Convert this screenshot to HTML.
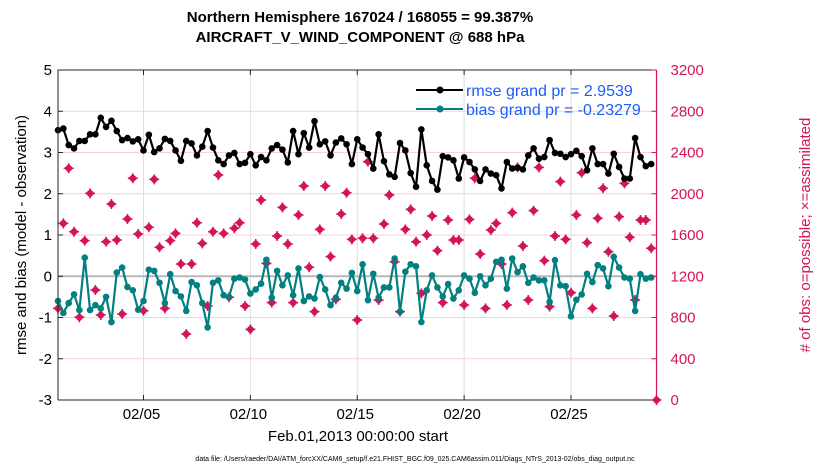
<!DOCTYPE html>
<html><head><meta charset="utf-8"><style>
body{margin:0;background:#fff;width:830px;height:470px;overflow:hidden}
svg text{font-family:"Liberation Sans",Arial,sans-serif}
</style></head><body>
<svg id="chart" width="830" height="470" viewBox="0 0 830 470">
<text x="360" y="22" text-anchor="middle" font-size="15" font-weight="bold">Northern Hemisphere 167024 / 168055 = 99.387%</text>
<text x="360" y="42" text-anchor="middle" font-size="15" font-weight="bold">AIRCRAFT_V_WIND_COMPONENT @ 688 hPa</text>
<g id="grid"></g><g id="marks"></g><g id="axes"></g>
<text x="358" y="441" text-anchor="middle" font-size="15">Feb.01,2013 00:00:00 start</text>
<text transform="translate(26,235) rotate(-90)" text-anchor="middle" font-size="15">rmse and bias (model - observation)</text>
<text transform="translate(810,235) rotate(-90)" text-anchor="middle" font-size="15" fill="#d4145a"># of obs: o=possible; ×=assimilated</text>
<text x="415" y="461" text-anchor="middle" font-size="7">data file: /Users/raeder/DAI/ATM_forcXX/CAM6_setup/f.e21.FHIST_BGC.f09_025.CAM6assim.011/Diags_NTrS_2013-02/obs_diag_output.nc</text>
<g>
<line x1="416" y1="90" x2="463" y2="90" stroke="#000" stroke-width="2"/><circle cx="440" cy="90" r="3.5" fill="#000"/>
<text x="466" y="96" font-size="16" fill="#1a5cff">rmse grand pr = 2.9539</text>
<line x1="416" y1="109" x2="463" y2="109" stroke="#008080" stroke-width="2"/><circle cx="440" cy="109" r="3.5" fill="#008080"/>
<text x="466" y="115" font-size="16" fill="#1a5cff">bias grand pr = -0.23279</text>
</g>
</svg>
<script>
const rmse=[3.54,3.58,3.18,3.10,3.28,3.28,3.44,3.44,3.84,3.62,3.77,3.52,3.30,3.35,3.27,3.32,3.05,3.43,3.01,3.10,3.33,3.28,3.05,2.80,3.28,3.22,2.93,3.14,3.52,3.12,2.81,2.72,2.93,2.99,2.72,2.75,2.96,2.69,2.89,
2.81,3.10,3.18,3.07,2.76,3.52,2.96,3.47,3.12,3.76,3.20,3.27,2.93,3.24,3.34,3.20,2.72,3.32,3.12,2.96,2.61,3.44,2.79,2.47,2.41,3.23,3.05,2.50,2.17,3.56,2.69,2.31,2.10,2.91,2.88,
2.81,2.37,2.88,2.77,2.59,2.31,2.59,2.49,2.45,2.13,2.77,2.61,2.63,2.59,2.93,3.10,2.85,2.89,3.30,2.99,2.97,2.89,2.96,3.04,2.91,2.57,3.10,2.72,2.72,2.49,2.97,2.65,2.37,2.37,3.35,2.89,2.67,2.72];
const bias=[-0.60,-0.89,-0.65,-0.44,-0.82,0.45,-0.82,-0.70,-0.78,-0.50,-1.11,0.09,0.21,-0.26,-0.34,-0.81,-0.60,0.16,0.13,-0.16,-0.65,0.05,-0.36,-0.49,-0.84,-0.14,-0.22,-0.65,-1.24,-0.16,-0.10,-0.46,-0.50,-0.06,-0.03,-0.08,-0.42,-0.32,-0.18,
0.40,-0.52,0.13,-0.22,0.02,-0.46,0.19,-0.60,-0.49,-0.54,-0.02,-0.32,-0.70,-0.52,-0.16,-0.30,0.08,-0.36,0.29,-0.58,0.06,-0.52,-0.27,-0.27,0.43,-0.86,0.11,0.29,0.24,-1.11,-0.34,0.02,-0.27,-0.49,-0.19,
-0.54,-0.34,0.02,-0.06,-0.40,0.0,-0.22,-0.06,0.35,0.40,-0.30,0.43,0.10,0.24,-0.16,-0.03,-0.10,-0.10,-0.62,0.39,-0.22,-0.24,-0.97,-0.57,-0.44,0.06,-0.14,0.27,0.19,-0.24,0.47,0.21,-0.03,-0.06,-0.84,0.05,-0.06,-0.03];
const nobs=[889,1713,2247,1632,802,1545,2004,1067,824,1535,1901,1552,834,1755,2150,1610,866,1675,2140,1481,889,1545,1616,1319,640,1319,1719,1519,912,1632,2182,1616,996,1665,1719,912,685,1513,1939,
1325,944,1590,1868,1513,944,1794,2075,1287,857,1655,2075,1390,976,1804,2010,1558,776,1568,2311,1568,970,1707,1988,1341,857,1655,1849,1535,1034,1600,1784,1448,944,1746,
1552,1552,921,1752,2150,1416,889,1648,1713,1319,921,1817,2256,1493,970,1836,2256,1351,905,1590,2117,1558,1041,1794,2204,1526,889,1762,2053,1438,815,1778,2101,1578,970,1746,1746,1471,0];
const leftTicks=[5,4,3,2,1,0,-1,-2,-3];
const rightTicks=[0,400,800,1200,1600,2000,2400,2800,3200];
const dateTicks=[4,9,14,19,24];
const dateLabels=["02/05","02/10","02/15","02/20","02/25"];
const stepDays=0.25;
const X0=58,X1=656.5,Y0=70,Y1=400;
const xS=d=>X0+(d/28)*(X1-X0);
const yL=v=>Y0+(5-v)/8*(Y1-Y0);
const yR=v=>Y1-v/3200*(Y1-Y0);
const NS="http://www.w3.org/2000/svg";
function mk(tag,attrs,parent){const e=document.createElementNS(NS,tag);for(const k in attrs)e.setAttribute(k,attrs[k]);parent.appendChild(e);return e;}
const grid=document.getElementById('grid'),marks=document.getElementById('marks'),axes=document.getElementById('axes');
leftTicks.forEach(t=>{if(t===0)return;const l=mk('line',{x1:X0,x2:X1,y1:yL(t),y2:yL(t),stroke:'#f6cfe0','stroke-width':1},grid);

});
dateTicks.forEach(d=>{const l=mk('line',{x1:xS(d),x2:xS(d),y1:Y0,y2:Y1,stroke:'#dedede','stroke-width':1},grid);

});
const z=mk('line',{x1:X0,x2:X1,y1:yL(0),y2:yL(0),stroke:'#b8b8b8','stroke-width':2},grid);


nobs.forEach((c,i)=>{const x=xS(i*stepDays),y=yR(c);const g=mk('g',{},marks);


mk('path',{d:`M${x} ${y-4.5}L${x+4.5} ${y}L${x} ${y+4.5}L${x-4.5} ${y}Z`,fill:'#d4145a'},g);
mk('circle',{cx:x,cy:y,r:3.2,fill:'#d4145a'},g);
mk('path',{d:`M${x-5} ${y}H${x+5}M${x} ${y-5}V${y+5}`,stroke:'#d4145a','stroke-width':1.5},g);});
function series(arr,color,name){const pts=arr.map((v,i)=>xS(i*stepDays)+','+yL(v)).join(' ');
const pl=mk('polyline',{points:pts,fill:'none',stroke:color,'stroke-width':2.2,'stroke-linejoin':'round'},marks);


arr.forEach((v,i)=>{const c=mk('circle',{cx:xS(i*stepDays),cy:yL(v),r:3.3,fill:color},marks);

});}
series(rmse,'#000','rmse');
series(bias,'#008080','bias');
const fr=mk('path',{d:`M${X0} ${Y1}V${Y0}H${X1}M${X0} ${Y1}H${X1}`,stroke:'#262626','stroke-width':1,fill:'none'},axes);


const ra=mk('line',{x1:X1,x2:X1,y1:Y0,y2:Y1,stroke:'#d4145a','stroke-width':1.2},axes);


leftTicks.forEach(t=>{mk('line',{x1:X0,x2:X0+5,y1:yL(t),y2:yL(t),stroke:'#262626'},axes);
const tx=mk('text',{x:X0-6,y:yL(t)+5,'text-anchor':'end','font-size':15},axes);tx.textContent=t;

});
rightTicks.forEach(t=>{mk('line',{x1:X1-5,x2:X1,y1:yR(t),y2:yR(t),stroke:'#d4145a'},axes);
const tx=mk('text',{x:X1+14,y:yR(t)+5,'font-size':15,fill:'#d4145a'},axes);tx.textContent=t;

});
dateTicks.forEach((d,i)=>{mk('line',{x1:xS(d),x2:xS(d),y1:Y1,y2:Y1-5,stroke:'#262626'},axes);mk('line',{x1:xS(d),x2:xS(d),y1:Y0,y2:Y0+5,stroke:'#262626'},axes);
const tx=mk('text',{x:xS(d)-2,y:Y1+19,'text-anchor':'middle','font-size':15},axes);tx.textContent=dateLabels[i];

});
</script>
</body></html>
